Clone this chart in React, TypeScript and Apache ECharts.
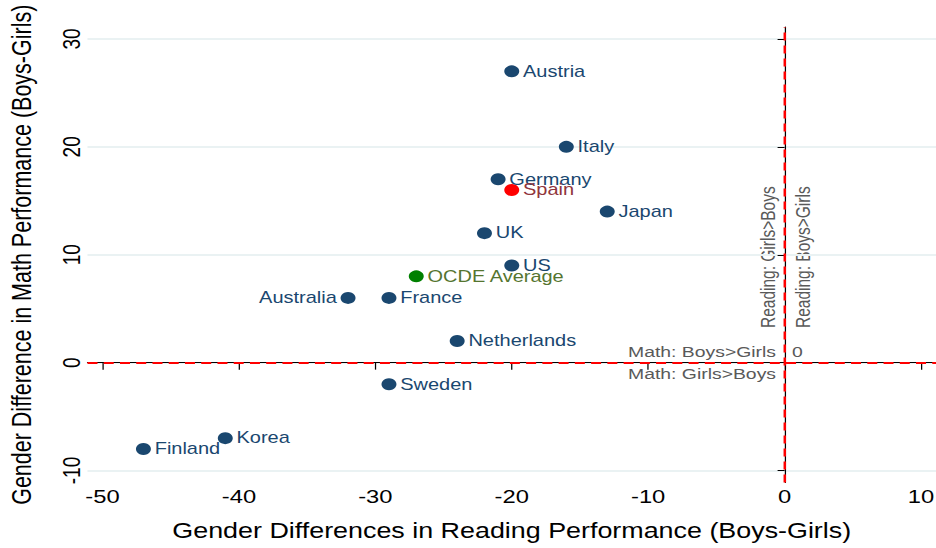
import React, { useEffect, useRef } from "react";
import * as echarts from "echarts";

const countries = ["Austria", "Italy", "Germany", "Spain", "Japan", "UK", "US", "OCDE Average", "Australia", "France", "Netherlands", "Sweden", "Korea", "Finland"];
const readingGap = [-20, -16, -21, -20, -13, -22, -20, -27, -32, -29, -24, -29, -41, -47];
const mathGap = [27, 20, 17, 16, 14, 12, 9, 8, 6, 6, 2, -2, -7, -8];
const xTicks = [-50, -40, -30, -20, -10, 0, 10];
const yTicks = [-10, 0, 10, 20, 30];

const NAVY = "#1a476f";
const FONT = "Liberation Sans, Arial, Helvetica, sans-serif";
// the reference graph is horizontally stretched
const W = 749;
const S = 936 / W;
const px = (x: number) => x / S;

export default function App() {
  const ref = useRef<HTMLDivElement>(null);
  useEffect(() => {
    if (!ref.current) return;
    const chart = echarts.init(ref.current, undefined, { renderer: "svg" });
    const data = countries.map((name, i) => {
      let color = NAVY;
      let labelColor = NAVY;
      if (name === "Spain") { color = "#ff0000"; labelColor = "#90353b"; }
      if (name === "OCDE Average") { color = "#008000"; labelColor = "#55752f"; }
      return {
        name,
        value: [readingGap[i], mathGap[i]],
        itemStyle: { color, opacity: 1 },
        label: {
          color: labelColor,
          position: name === "Australia" ? "left" : "right",
        },
      };
    });
    const annot = { fill: "#595959", fontSize: 15.5, fontFamily: FONT };
    chart.setOption({
      animation: false,
      backgroundColor: "#ffffff",
      textStyle: { fontFamily: FONT },
      grid: { left: px(87.5), top: 27, right: 0, bottom: 65.5, containLabel: false, outerBoundsMode: "none" },
      xAxis: {
        type: "value",
        min: -51.1,
        max: 11.1,
        name: "Gender Differences in Reading Performance (Boys-Girls)",
        nameLocation: "middle",
        nameGap: 37,
        nameTextStyle: { fontSize: 21.5, color: "#000", fontFamily: FONT },
        axisLine: { show: true, lineStyle: { color: "#000", width: 1 } },
        axisTick: { show: true, length: 7, customValues: xTicks, lineStyle: { color: "#000" } },
        axisLabel: { customValues: xTicks, fontSize: 19, color: "#000", margin: 5, fontFamily: FONT },
        splitLine: { show: false },
      },
      yAxis: {
        type: "value",
        min: -11.11,
        max: 31.11,
        name: "Gender Difference in Math Performance (Boys-Girls)",
        nameLocation: "middle",
        nameGap: 42,
        nameTextStyle: { fontSize: 21.5, color: "#000", fontFamily: FONT },
        axisLine: { show: true, lineStyle: { color: "#000", width: 1 } },
        axisTick: { show: true, length: 5.6, customValues: yTicks, lineStyle: { color: "#000" } },
        axisLabel: { customValues: yTicks, fontSize: 19, color: "#000", margin: 3, rotate: 90, fontFamily: FONT },
        splitLine: { show: true, lineStyle: { color: "#eaf2f3", width: 2 } },
      },
      series: [
        {
          type: "scatter",
          symbol: "circle",
          symbolSize: 12,
          data,
          label: {
            show: true,
            formatter: "{b}",
            fontSize: 16,
            fontFamily: FONT,
            distance: 3,
          },
          markLine: {
            silent: true,
            symbol: "none",
            label: { show: false },
            lineStyle: { color: "#ff0000", type: [8, 5], width: 2, opacity: 1 },
            data: [{ xAxis: 0 }, { yAxis: 0 }],
          },
          z: 3,
        },
      ],
      graphic: [
        {
          type: "text",
          x: px(768),
          y: 328,
          rotation: Math.PI / 2,
          style: { ...annot, text: "Reading: Girls>Boys", align: "left", verticalAlign: "middle" },
        },
        {
          type: "text",
          x: px(803),
          y: 328,
          rotation: Math.PI / 2,
          style: { ...annot, text: "Reading: Boys>Girls", align: "left", verticalAlign: "middle" },
        },
        {
          type: "text",
          x: px(776),
          y: 352,
          style: { ...annot, text: "Math: Boys>Girls", align: "right", verticalAlign: "middle" },
        },
        {
          type: "text",
          x: px(776),
          y: 374,
          style: { ...annot, text: "Math: Girls>Boys", align: "right", verticalAlign: "middle" },
        },
        {
          type: "text",
          x: px(792),
          y: 352,
          style: { ...annot, text: "0", align: "left", verticalAlign: "middle" },
        },
      ],
    });
    return () => chart.dispose();
  }, []);
  return (
    <div
      ref={ref}
      style={{
        width: W,
        height: 548,
        position: "absolute",
        left: 0,
        top: 0,
        transform: `scaleX(${S})`,
        transformOrigin: "0 0",
      }}
    />
  );
}
